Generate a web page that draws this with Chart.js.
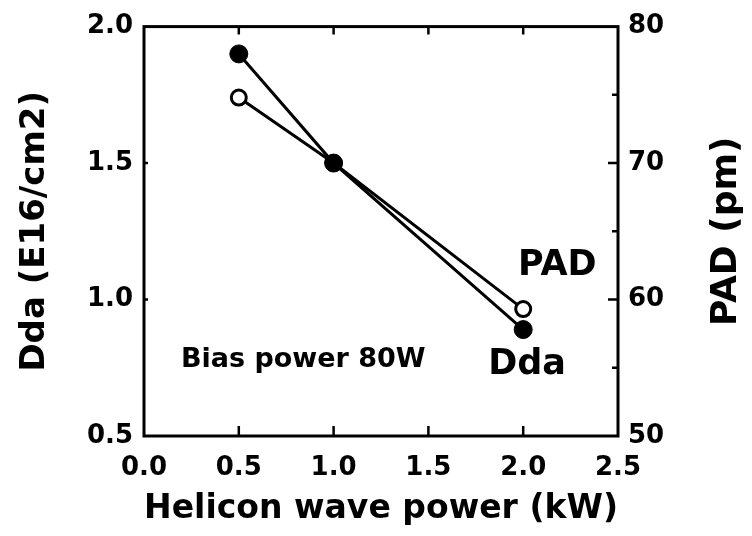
<!DOCTYPE html>
<html>
<head>
<meta charset="utf-8">
<script src="https://cdn.jsdelivr.net/npm/chart.js@4"></script>
<style>
  html, body { margin: 0; padding: 0; background: #fff; }
  canvas { display: block; }
</style>
</head>
<body>
<canvas id="chart" width="752" height="536"></canvas>
<script>
// Data
const heliconPower = [0.5, 1.0, 2.0];     // kW
const ddaValues = [1.9, 1.5, 0.89];       // E16/cm2 (left axis)
const padValues = [74.8, 70.0, 59.3];     // pm (right axis)
const xTicks = [0.0, 0.5, 1.0, 1.5, 2.0, 2.5];
const ddaTicks = [0.5, 1.0, 1.5, 2.0];
const padTicks = [50, 60, 70, 80];
const padMinorTicks = [55, 65, 75];

const FONT = "'DejaVu Sans', sans-serif";

// frame, inward ticks and text labels
const framePlugin = {
    id: 'frame',
    afterDraw(chart) {
        const { ctx, chartArea: a, scales } = chart;
        const x = scales.x, y = scales.y, y2 = scales.y2;
        ctx.save();
        ctx.strokeStyle = '#000';
        ctx.lineWidth = 3;
        ctx.strokeRect(a.left, a.top, a.right - a.left, a.bottom - a.top);

        ctx.lineWidth = 2.5;
        ctx.beginPath();
        xTicks.slice(1, -1).forEach(v => {
            const px = x.getPixelForValue(v);
            ctx.moveTo(px, a.bottom); ctx.lineTo(px, a.bottom - 10);
            ctx.moveTo(px, a.top); ctx.lineTo(px, a.top + 8);
        });
        ddaTicks.slice(1, -1).forEach(v => {
            const py = y.getPixelForValue(v);
            ctx.moveTo(a.left, py); ctx.lineTo(a.left + 4, py);
        });
        padTicks.slice(1, -1).forEach(v => {
            const py = y2.getPixelForValue(v);
            ctx.moveTo(a.right, py); ctx.lineTo(a.right - 10, py);
        });
        padMinorTicks.forEach(v => {
            const py = y2.getPixelForValue(v);
            ctx.moveTo(a.right, py); ctx.lineTo(a.right - 6, py);
        });
        ctx.stroke();

        ctx.fillStyle = '#000';
        ctx.textAlign = 'center';
        ctx.textBaseline = 'middle';
        ctx.font = `bold 27px ${FONT}`;
        ctx.fillText('Bias power 80W', x.getPixelForValue(0.84), y.getPixelForValue(0.78));
        ctx.font = `bold 35px ${FONT}`;
        ctx.fillText('PAD', x.getPixelForValue(2.18), y.getPixelForValue(1.125));
        ctx.fillText('Dda', x.getPixelForValue(2.02), y.getPixelForValue(0.76));

        // right axis title, reads bottom to top
        ctx.font = `bold 36px ${FONT}`;
        ctx.translate(727, (a.top + a.bottom) / 2);
        ctx.rotate(-Math.PI / 2);
        ctx.fillText('PAD (pm)', 0, 0);
        ctx.restore();
    }
};

const tickFont = { family: FONT, size: 26, weight: 'bold' };
const titleFont = { family: FONT, size: 34, weight: 'bold' };

new Chart(document.getElementById('chart'), {
    type: 'line',
    data: {
        datasets: [
            {
                label: 'Dda',
                data: heliconPower.map((p, i) => ({ x: p, y: ddaValues[i] })),
                yAxisID: 'y',
                borderColor: '#000',
                borderWidth: 3,
                pointRadius: 9,
                pointBackgroundColor: '#000',
                pointBorderColor: '#000',
                pointBorderWidth: 1,
            },
            {
                label: 'PAD',
                data: heliconPower.map((p, i) => ({ x: p, y: padValues[i] })),
                yAxisID: 'y2',
                borderColor: '#000',
                borderWidth: 3,
                pointRadius: 7.5,
                pointBackgroundColor: '#fff',
                pointBorderColor: '#000',
                pointBorderWidth: 3,
            },
        ]
    },
    options: {
        responsive: false,
        animation: false,
        devicePixelRatio: 1,
        layout: { padding: { top: 18, left: 0, right: 0, bottom: 0 } },
        plugins: { legend: { display: false }, tooltip: { enabled: false } },
        scales: {
            x: {
                type: 'linear',
                min: 0, max: 2.5,
                afterBuildTicks: s => { s.ticks = xTicks.map(v => ({ value: v })); },
                afterFit: s => { s.height = 100; },
                grid: { display: false, drawTicks: false },
                border: { display: false },
                ticks: { color: '#000', font: tickFont, padding: 17, maxRotation: 0, callback: v => v.toFixed(1) },
                title: { display: true, text: 'Helicon wave power (kW)', color: '#000', font: titleFont, padding: { top: 0, bottom: 6 } },
            },
            y: {
                position: 'left',
                min: 0.5, max: 2.0,
                afterBuildTicks: s => { s.ticks = ddaTicks.map(v => ({ value: v })); },
                afterFit: s => { s.width = 144; },
                grid: { display: false, drawTicks: false },
                border: { display: false },
                ticks: { color: '#000', font: tickFont, padding: 11, callback: v => v.toFixed(1) },
                title: { display: true, text: 'Dda (E16/cm2)', color: '#000', font: titleFont, padding: { top: 15, bottom: 0 } },
            },
            y2: {
                position: 'right',
                min: 50, max: 80,
                afterBuildTicks: s => { s.ticks = padTicks.map(v => ({ value: v })); },
                afterFit: s => { s.width = 134; },
                grid: { display: false, drawTicks: false },
                border: { display: false },
                ticks: { color: '#000', font: tickFont, padding: 10, callback: v => String(v) },
            },
        }
    },
    plugins: [framePlugin]
});
</script>
</body>
</html>
